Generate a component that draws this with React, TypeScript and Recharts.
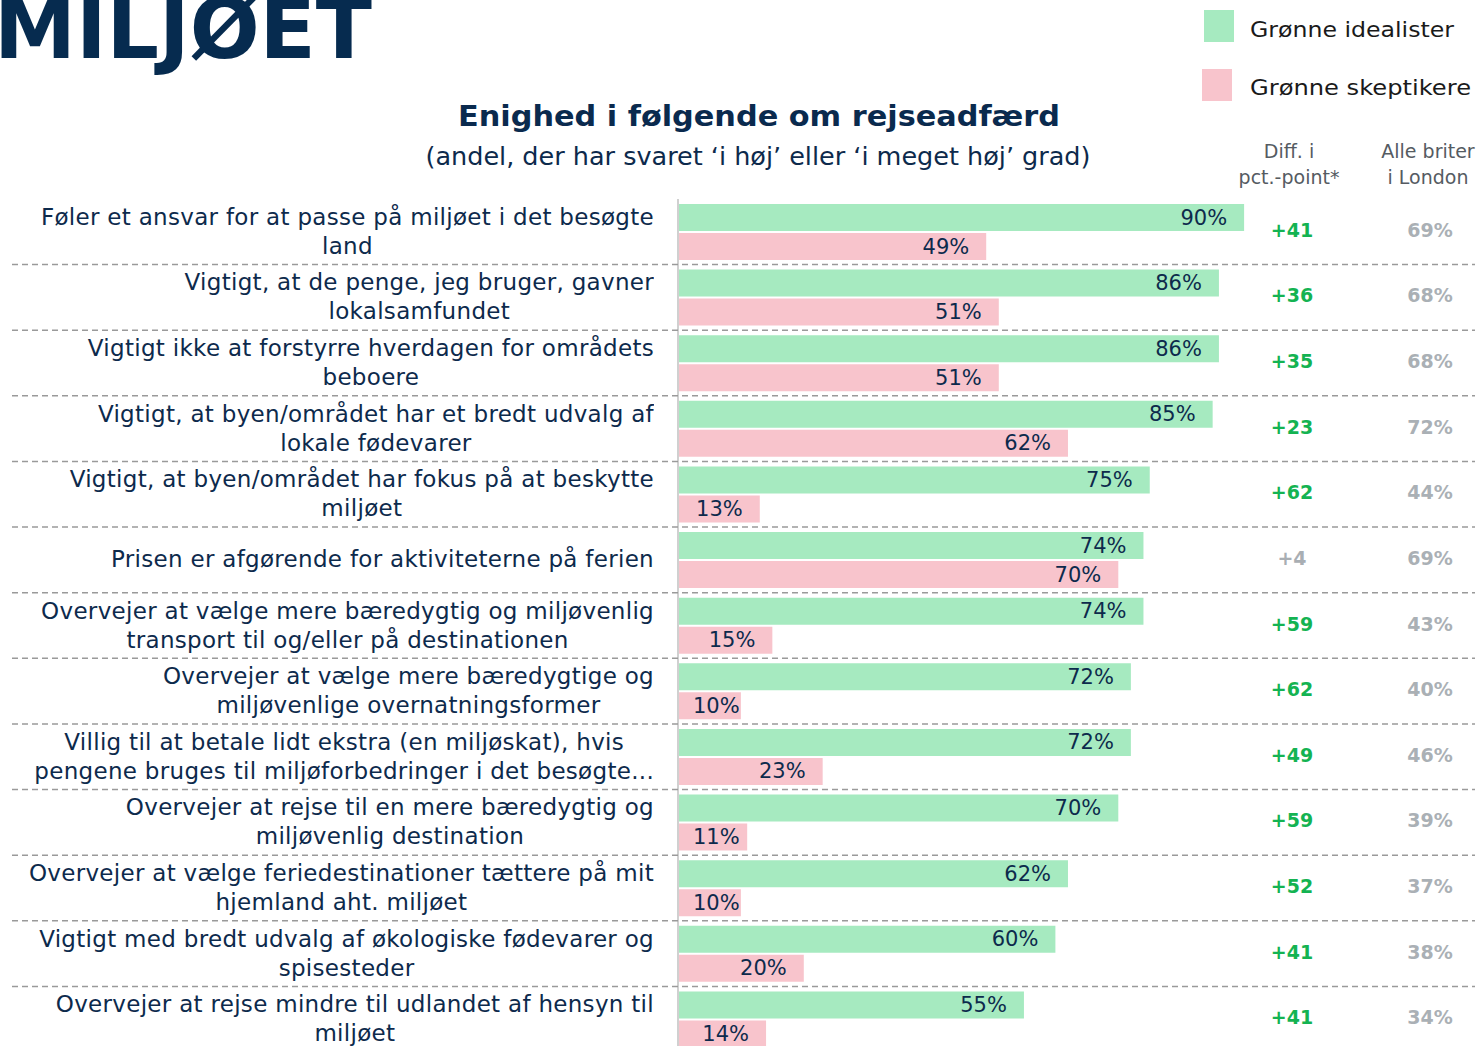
import React from "react";
import { BarChart, Bar, XAxis, YAxis, LabelList } from "recharts";

const categories = [
  "Føler et ansvar for at passe på miljøet i det besøgte\nland",
  "Vigtigt, at de penge, jeg bruger, gavner\nlokalsamfundet",
  "Vigtigt ikke at forstyrre hverdagen for områdets\nbeboere",
  "Vigtigt, at byen/området har et bredt udvalg af\nlokale fødevarer",
  "Vigtigt, at byen/området har fokus på at beskytte\nmiljøet",
  "Prisen er afgørende for aktiviteterne på ferien",
  "Overvejer at vælge mere bæredygtig og miljøvenlig\ntransport til og/eller på destinationen",
  "Overvejer at vælge mere bæredygtige og\nmiljøvenlige overnatningsformer",
  "Villig til at betale lidt ekstra (en miljøskat), hvis\npengene bruges til miljøforbedringer i det besøgte...",
  "Overvejer at rejse til en mere bæredygtig og\nmiljøvenlig destination",
  "Overvejer at vælge feriedestinationer tættere på mit\nhjemland aht. miljøet",
  "Vigtigt med bredt udvalg af økologiske fødevarer og\nspisesteder",
  "Overvejer at rejse mindre til udlandet af hensyn til\nmiljøet",
];
const idealister = [90, 86, 86, 85, 75, 74, 74, 72, 72, 70, 62, 60, 55];
const skeptikere = [49, 51, 51, 62, 13, 70, 15, 10, 23, 11, 10, 20, 14];
const diffLabels = ["+41", "+36", "+35", "+23", "+62", "+4", "+59", "+62", "+49", "+59", "+52", "+41", "+41"];
const diffSignificant = [true, true, true, true, true, false, true, true, true, true, true, true, true];
const londonLabels = ["69%", "68%", "68%", "72%", "44%", "69%", "43%", "40%", "46%", "39%", "37%", "38%", "34%"];

const data = categories.map((name, i) => ({
  name,
  ideal: idealister[i],
  skep: skeptikere[i],
  diff: diffLabels[i],
  sig: diffSignificant[i],
  london: londonLabels[i],
}));

const FONT = "'DejaVu Sans', sans-serif";
const NAVY = "#0d2a4c";
const GREEN = "#a6eac0";
const PINK = "#f8c4cc";
const W = 1483;
const H = 1052;
const TOP = 199;
const PLOT_H = H - TOP;
const ROW_H = PLOT_H / categories.length;

const Tick = (props: any) => {
  const { x, y, payload, index } = props;
  const d = data[index];
  const boxW = 670;
  const boxH = 66;
  return (
    <g>
      <foreignObject x={x - boxW} y={y - boxH / 2} width={boxW} height={boxH}>
        <div
          style={{
            width: boxW,
            height: boxH,
            display: "flex",
            justifyContent: "flex-end",
            alignItems: "center",
          }}
        >
          <div
            style={{
              textAlign: "center",
              whiteSpace: "pre",
              fontFamily: FONT,
              fontSize: 23,
              lineHeight: "29px",
              color: NAVY,
              letterSpacing: "0.3px",
            }}
          >
            {String(payload.value)}
          </div>
        </div>
      </foreignObject>
      {index < categories.length - 1 && (
        <line x1={12} x2={1475} y1={y + ROW_H / 2} y2={y + ROW_H / 2} stroke="#9a9a9a" strokeWidth={1.5} strokeDasharray="6 4" />
      )}
      <text x={1292} y={y - 2} textAnchor="middle" dominantBaseline="central" fontFamily={FONT} fontWeight={700} fontSize={19} fill={d && d.sig ? "#14b352" : "#a9aeb3"}>
        {d ? d.diff : ""}
      </text>
      <text x={1430} y={y - 2} textAnchor="middle" dominantBaseline="central" fontFamily={FONT} fontWeight={700} fontSize={19} fill="#aab0b5">
        {d ? d.london : ""}
      </text>
    </g>
  );
};

const ValueLabel = (props: any) => {
  const { x, y, width, height, value } = props;
  const txt = `${value}%`;
  const estW = 46;
  const endX = x + width - 17;
  const clamped = endX - estW < x + 15;
  return (
    <text
      x={clamped ? x + 15 : endX}
      y={y + height / 2}
      textAnchor={clamped ? "start" : "end"}
      dominantBaseline="central"
      fontFamily={FONT}
      fontSize={21}
      fill={NAVY}
    >
      {txt}
    </text>
  );
};

export default function App() {
  return (
    <div style={{ position: "absolute", left: 0, top: 0, width: W, height: 1046, overflow: "hidden", background: "#fff" }}>
      <svg width={W} height={200} style={{ position: "absolute", left: 0, top: 0 }}>
        <text x={-6} y={58} fontFamily={FONT} fontWeight={800} fontSize={84} fill="#062b4f" textLength={378} lengthAdjust="spacingAndGlyphs">
          MILJØET
        </text>
        <text x={759} y={126} textAnchor="middle" fontFamily={FONT} fontWeight={800} fontSize={28} fill="#0a2a4e" textLength={602} lengthAdjust="spacingAndGlyphs">
          Enighed i følgende om rejseadfærd
        </text>
        <text x={758} y={165} textAnchor="middle" fontFamily={FONT} fontSize={24} fill={NAVY} textLength={665} lengthAdjust="spacingAndGlyphs">
          (andel, der har svaret ‘i høj’ eller ‘i meget høj’ grad)
        </text>
        <rect x={1204} y={10} width={30} height={32} fill={GREEN} />
        <text x={1250} y={37} fontFamily={FONT} fontSize={22} fill="#1a1a1a" textLength={204} lengthAdjust="spacingAndGlyphs">Grønne idealister</text>
        <rect x={1202} y={69} width={30} height={32} fill={PINK} />
        <text x={1250} y={95} fontFamily={FONT} fontSize={22} fill="#1a1a1a" textLength={221} lengthAdjust="spacingAndGlyphs">Grønne skeptikere</text>
        <text x={1289} y={158} textAnchor="middle" fontFamily={FONT} fontSize={19} fill="#555b62">Diff. i</text>
        <text x={1289} y={184} textAnchor="middle" fontFamily={FONT} fontSize={19} fill="#555b62">pct.-point*</text>
        <text x={1428} y={158} textAnchor="middle" fontFamily={FONT} fontSize={19} fill="#555b62">Alle briter</text>
        <text x={1428} y={184} textAnchor="middle" fontFamily={FONT} fontSize={19} fill="#555b62">i London</text>
      </svg>
      <div style={{ position: "absolute", left: 0, top: 0 }}>
        <BarChart
          width={W}
          height={H}
          data={data}
          layout="vertical"
          margin={{ top: TOP, right: 176, bottom: 0, left: 0 }}
          barGap={2}
        >
          <XAxis type="number" domain={[0, 100]} hide />
          <YAxis
            type="category"
            dataKey="name"
            width={678}
            tickSize={0}
            tickMargin={24}
            axisLine={{ stroke: "#d0d0d0", strokeWidth: 2 }}
            tickLine={false}
            tick={<Tick />}
            interval={0}
          />
          <Bar dataKey="ideal" fill={GREEN} barSize={27} isAnimationActive={false}>
            <LabelList dataKey="ideal" content={<ValueLabel />} />
          </Bar>
          <Bar dataKey="skep" fill={PINK} barSize={27} isAnimationActive={false}>
            <LabelList dataKey="skep" content={<ValueLabel />} />
          </Bar>
        </BarChart>
      </div>
    </div>
  );
}
